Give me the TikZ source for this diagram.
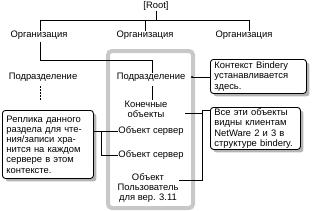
\documentclass[tikz,border=0pt]{standalone}
\usepackage{fontspec}
\setmainfont{Liberation Sans}
\usetikzlibrary{shadows}
\definecolor{hl}{HTML}{C8C8C8}
\definecolor{shd}{HTML}{B4B4B4}
\begin{document}
\begin{tikzpicture}[x=1pt,y=-1pt,
  font=\fontsize{9.4}{10.2}\selectfont,
  lbl/.style={inner sep=0pt, align=center},
  ln/.style={line width=0.8pt},
  callout/.style={draw, line width=0.9pt, rounded corners=3pt, fill=white,
    align=left, inner xsep=4pt, inner ysep=0pt, anchor=north west,
    drop shadow={shadow xshift=3pt, shadow yshift=-3pt, fill=shd, opacity=1}}]
\useasboundingbox (0,0) rectangle (313,210);
% highlight frame
\draw[hl, line width=4pt, rounded corners=4pt] (108,51) rectangle (193,208);
% labels
\node[lbl] (root) at (156,6) {[Root]};
\node[lbl] (org1) at (39,35) {Организация};
\node[lbl] (org2) at (145,35) {Организация};
\node[lbl] (org3) at (244,35) {Организация};
\node[lbl] (sub1) at (43,77) {Подразделение};
\node[lbl] (sub2) at (151,77) {Подразделение};
\node[lbl] (leaf) at (146,109) {Конечные\\объекты};
\node[lbl] (obj1) at (151,131) {Объект сервер};
\node[lbl] (obj2) at (151,155) {Объект сервер};
\node[lbl] (user) at (148,188) {Объект\\Пользователь\\для вер. 3.11};
% callouts
\node[callout, minimum width=96pt, minimum height=34pt, text width=88pt] (c1) at (210,59)
  {Контекст Bindery\\устанавливается\\здесь.};
\node[callout, minimum width=90pt, minimum height=42pt, text width=82pt] (c2) at (210,107)
  {Все эти объекты\\видны клиентам\\NetWare 2 и 3 в\\структуре bindery.};
\node[callout, minimum width=91pt, minimum height=68pt, text width=83pt] (c0) at (2,110)
  {Реплика данного\\раздела для чте-\\ния/записи хра-\\нится на каждом\\сервере в этом\\контексте.};
% coordinates
\coordinate (bus) at (0,20);
\coordinate (bus2) at (0,60);
\coordinate (o1top) at (40,42);
\coordinate (o2x) at (145,0);
\coordinate (o3x) at (249,0);
\coordinate (s2x) at (152,0);
\coordinate (s2bot) at (152,86);
\coordinate (dtop) at (40,86);
\coordinate (dbot) at (40,101);
\coordinate (dot) at (192,77);
\coordinate (brx) at (202,0);
\coordinate (lbx) at (101,0);
\coordinate (leafln) at (185,113);
% tree
\draw[ln] (root.south) -- (root.south |- bus);
\draw[ln] (o1top |- bus) -- (o3x |- bus);
\draw[ln] (o1top |- bus) -- (o1top |- org1.north);
\draw[ln] (o2x |- bus) -- (o2x |- org2.north);
\draw[ln] (o3x |- bus) -- (o3x |- org3.north);
\draw[ln] (o1top) -- (o1top |- bus2) -- (s2x |- bus2) -- (s2x |- sub2.north);
\draw[ln, dash pattern=on 1.5pt off 1.5pt] (dtop) -- (dbot);
\draw[ln] (s2bot) -- (s2x |- leaf.north);
% bindery context
\fill (dot) circle (1.2pt);
\draw[ln] (dot) -- (c1.west |- dot);
% bracket for objects
\draw[ln] (leafln) -- (brx |- leafln);
\draw[ln] (c2.west |- 0,110) -- (brx |- 0,110) -- (brx |- 0,180) -- (user.east |- 0,180);
% replica lines
\draw[ln] (c0.east |- obj1) -- (obj1.west);
\draw[ln] (lbx |- obj1) -- (lbx |- obj2) -- (obj2.west);
\end{tikzpicture}
\end{document}
